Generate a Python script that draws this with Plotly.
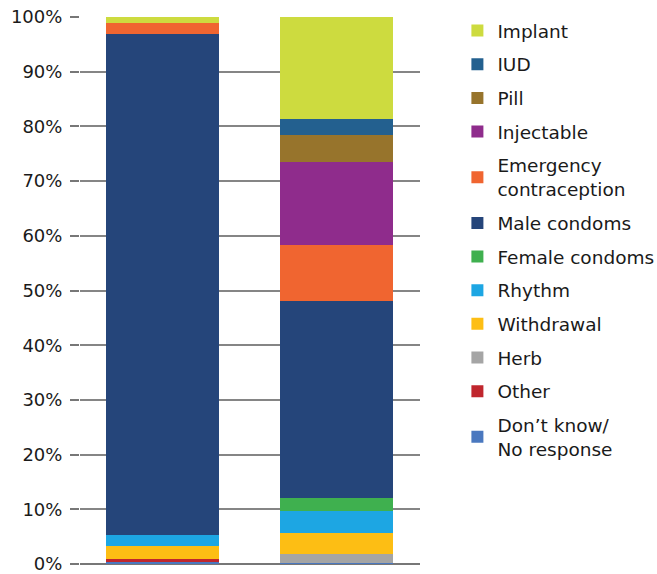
import plotly.graph_objects as go

# Stack order from bottom to top
methods = ["Don\u2019t know/<br>No response", "Other", "Herb", "Withdrawal", "Rhythm",
           "Female condoms", "Male condoms", "Emergency<br>contraception",
           "Injectable", "Pill", "IUD", "Implant"]
colors = ["#4A78BF", "#C0262D", "#A5A5A5", "#FDBE14", "#1DA6E3",
          "#3FB04F", "#25457A", "#F06530",
          "#8F2C8C", "#97742C", "#23608F", "#CDDB3F"]
groups = [0, 1]
bar1 = [0.4, 0.5, 0.0, 2.4, 2.0, 0.0, 91.6, 2.0, 0.0, 0.0, 0.0, 1.1]
bar2 = [0.25, 0.0, 1.65, 3.8, 3.9, 2.5, 36.0, 10.3, 15.1, 4.9, 3.0, 18.6]
y_ticks = list(range(0, 101, 10))

fig = go.Figure()
n = len(methods)
for i, m in enumerate(methods):
    fig.add_trace(go.Bar(
        x=groups, y=[bar1[i], bar2[i]], name=m,
        legendgroup=f"g{i}", legendrank=n - i,
        marker=dict(color=colors[i], line=dict(width=0)),
        width=0.65,
    ))

font_family = "DejaVu Sans, sans-serif"
fig.update_layout(
    barmode="stack",
    width=657, height=574,
    margin=dict(l=80, r=237, t=17, b=10, autoexpand=False),
    paper_bgcolor="white", plot_bgcolor="white",
    font=dict(family=font_family, size=18, color="#1a1a1a"),
    showlegend=True,
    legend=dict(
        traceorder="grouped",
        x=1.11, xanchor="left", y=1.009, yanchor="top",
        font=dict(size=18.5, color="#1a1a1a"),
        itemwidth=30, tracegroupgap=6.6, maxheight=1,
        bgcolor="rgba(0,0,0,0)",
    ),
    xaxis=dict(range=[-0.474, 1.48], showticklabels=False, ticks="",
               showgrid=False, zeroline=False, showline=False),
    yaxis=dict(range=[0, 100], tickvals=y_ticks,
               ticktext=[f"{v}%" for v in y_ticks],
               ticks="outside", ticklen=9, tickcolor="#777", tickwidth=1.5,
               showgrid=True, gridcolor="#858585", gridwidth=1.5,
               zeroline=True, zerolinecolor="#777", zerolinewidth=2,
               showline=False, tickfont=dict(size=18), automargin=False,
               ticklabeloverflow="allow", ticklabelstandoff=4),
)

fig.write_html("out.html")
